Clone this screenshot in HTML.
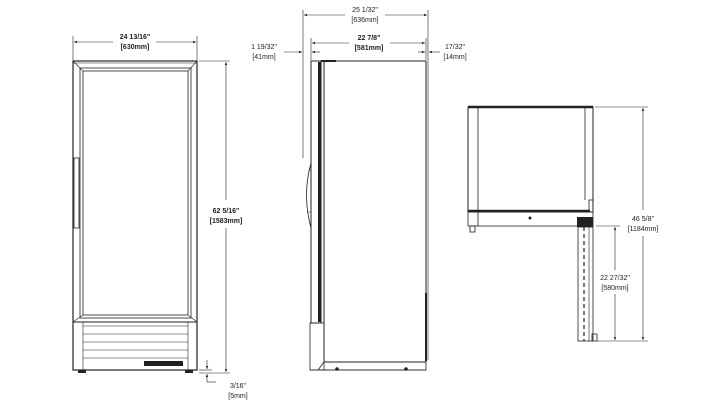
<!DOCTYPE html>
<html><head><meta charset="utf-8"><style>
html,body{margin:0;padding:0;background:#fff;}
svg{display:block;}
text{font-family:"Liberation Sans",sans-serif;font-size:7px;fill:#222;}
.b{font-weight:bold;}
</style></head><body>
<svg width="723" height="400" viewBox="0 0 723 400" xmlns="http://www.w3.org/2000/svg">
<defs>
<marker id="a" viewBox="0 0 10 10" refX="10" refY="5" markerWidth="5" markerHeight="5" orient="auto-start-reverse"><path d="M0,1 L10,5 L0,9 z" fill="#222"/></marker>
</defs>
<g stroke="#222" fill="none" stroke-width="1">
<!-- FRONT VIEW -->
<line x1="73" y1="36" x2="73" y2="60" stroke-width="0.6"/>
<line x1="197" y1="36" x2="197" y2="60" stroke-width="0.6"/>
<line x1="74" y1="42" x2="113" y2="42" stroke-width="0.6" marker-start="url(#a)"/>
<line x1="156" y1="42" x2="196" y2="42" stroke-width="0.6" marker-end="url(#a)"/>
<rect x="73" y="61" width="124" height="309" stroke-width="1.2"/>
<line x1="73" y1="63" x2="197" y2="63" stroke-width="0.6"/>
<rect x="80" y="68" width="111" height="250" stroke-width="0.8"/>
<rect x="83" y="71" width="105" height="244" stroke-width="0.8"/>
<line x1="73" y1="61" x2="83" y2="71" stroke-width="0.6"/>
<line x1="197" y1="61" x2="188" y2="71" stroke-width="0.6"/>
<line x1="73" y1="322" x2="83" y2="315" stroke-width="0.6"/>
<line x1="197" y1="322" x2="188" y2="315" stroke-width="0.6"/>
<rect x="74" y="158" width="5" height="70" stroke-width="0.8"/>
<line x1="73" y1="322" x2="197" y2="322"/>
<line x1="83" y1="322" x2="83" y2="370" stroke-width="0.6"/>
<line x1="188" y1="322" x2="188" y2="370" stroke-width="0.6"/>
<line x1="83" y1="326" x2="188" y2="326" stroke-width="0.6"/>
<line x1="83" y1="334" x2="188" y2="334" stroke-width="0.6"/>
<line x1="83" y1="342" x2="188" y2="342" stroke-width="0.6"/>
<line x1="83" y1="350" x2="188" y2="350" stroke-width="0.6"/>
<line x1="83" y1="358" x2="188" y2="358" stroke-width="0.6"/>
<rect x="144" y="361" width="39" height="5" fill="#222" stroke="none"/>
<rect x="78" y="370" width="8" height="3" fill="#222" stroke="none"/>
<rect x="185" y="370" width="8" height="3" fill="#222" stroke="none"/>
<line x1="199" y1="61" x2="230" y2="61" stroke-width="0.6"/>
<line x1="199" y1="373" x2="230" y2="373" stroke-width="0.6"/>
<line x1="226" y1="62" x2="226" y2="200" stroke-width="0.6" marker-start="url(#a)"/>
<line x1="226" y1="228" x2="226" y2="372" stroke-width="0.6" marker-end="url(#a)"/>
<line x1="207" y1="360" x2="207" y2="369" stroke-width="0.6" marker-end="url(#a)"/>
<line x1="207" y1="382" x2="207" y2="374" stroke-width="0.6" marker-end="url(#a)"/>
<line x1="207" y1="382" x2="216" y2="382" stroke-width="0.6"/>
<line x1="199" y1="370" x2="212" y2="370" stroke-width="0.6"/>

<!-- SIDE VIEW -->
<line x1="303" y1="10" x2="303" y2="158" stroke-width="0.6"/>
<line x1="428" y1="10" x2="428" y2="360" stroke-width="0.6"/>
<line x1="304" y1="15" x2="345" y2="15" stroke-width="0.6" marker-start="url(#a)"/>
<line x1="385" y1="15" x2="427" y2="15" stroke-width="0.6" marker-end="url(#a)"/>
<line x1="311" y1="38" x2="311" y2="60" stroke-width="0.6"/>
<line x1="426" y1="38" x2="426" y2="60" stroke-width="0.6"/>
<line x1="312" y1="43" x2="349" y2="43" stroke-width="0.6" marker-start="url(#a)"/>
<line x1="390" y1="43" x2="425" y2="43" stroke-width="0.6" marker-end="url(#a)"/>
<line x1="284" y1="52" x2="302" y2="52" stroke-width="0.6" marker-end="url(#a)"/>
<line x1="320" y1="52" x2="312" y2="52" stroke-width="0.6" marker-end="url(#a)"/>
<line x1="418" y1="52" x2="425" y2="52" stroke-width="0.6" marker-end="url(#a)"/>
<line x1="440" y1="52" x2="429" y2="52" stroke-width="0.6" marker-end="url(#a)"/>
<rect x="311" y="61" width="10" height="262" stroke-width="1"/>
<rect x="318" y="62" width="3" height="260" fill="#222" stroke="none"/>
<line x1="321" y1="61" x2="426" y2="61"/>
<line x1="321" y1="61" x2="336" y2="61" stroke-width="2"/>
<line x1="426" y1="61" x2="426" y2="362"/>
<rect x="425" y="293" width="2" height="68" fill="#222" stroke="none"/>
<line x1="324" y1="61" x2="324" y2="362"/>
<path d="M311,163 Q302,195 311,228" stroke-width="0.8"/>
<path d="M309,170 L311,170 M308,212 L311,212" stroke-width="0.6"/>
<rect x="310" y="323" width="14" height="47" stroke-width="0.8"/>
<line x1="324" y1="362" x2="426" y2="362"/>
<path d="M324,362 L318,370 L426,370 L426,362" stroke-width="0.8"/>
<path d="M310,370 L426,370" stroke-width="0.8"/>
<circle cx="337" cy="369" r="1.3" fill="#222"/>
<circle cx="406" cy="369" r="1.3" fill="#222"/>

<!-- TOP VIEW -->
<rect x="468" y="107" width="125" height="105" stroke-width="1"/>
<line x1="468" y1="107" x2="593" y2="107" stroke-width="2.5"/>
<line x1="478" y1="108" x2="478" y2="212" stroke-width="0.8"/>
<line x1="585" y1="108" x2="585" y2="200" stroke-width="0.8"/>
<line x1="468" y1="211" x2="590" y2="211" stroke-width="2.5"/>
<rect x="468" y="212" width="125" height="14" stroke-width="0.8"/>
<line x1="478" y1="212" x2="478" y2="226" stroke-width="0.8"/>
<rect x="470" y="226" width="5" height="6" stroke-width="0.8"/>
<circle cx="530" cy="218" r="1" fill="#222"/>
<rect x="589" y="200" width="4" height="12" stroke-width="0.8"/>
<rect x="577" y="217" width="16" height="10" fill="#222" stroke="none"/>
<rect x="578" y="227" width="15" height="114" stroke-width="0.8"/>
<line x1="584" y1="227" x2="584" y2="341" stroke-width="1.2" stroke-dasharray="4,3"/>
<line x1="589" y1="227" x2="589" y2="341" stroke-width="0.6"/>
<rect x="592" y="334" width="5" height="7" stroke-width="0.8"/>
<line x1="595" y1="107" x2="648" y2="107" stroke-width="0.6"/>
<line x1="597" y1="341" x2="648" y2="341" stroke-width="0.6"/>
<line x1="596" y1="226" x2="620" y2="226" stroke-width="0.6"/>
<line x1="643" y1="108" x2="643" y2="210" stroke-width="0.6" marker-start="url(#a)"/>
<line x1="643" y1="236" x2="643" y2="340" stroke-width="0.6" marker-end="url(#a)"/>
<line x1="615" y1="227" x2="615" y2="270" stroke-width="0.6" marker-start="url(#a)"/>
<line x1="615" y1="294" x2="615" y2="340" stroke-width="0.6" marker-end="url(#a)"/>
</g>
<g>
<text x="135" y="39" text-anchor="middle" class="b">24 13/16"</text>
<text x="135" y="49" text-anchor="middle" class="b">[630mm]</text>
<text x="226" y="213" text-anchor="middle" class="b">62 5/16"</text>
<text x="226" y="223" text-anchor="middle" class="b">[1583mm]</text>
<text x="238" y="388" text-anchor="middle">3/16"</text>
<text x="238" y="398" text-anchor="middle">[5mm]</text>
<text x="365" y="12" text-anchor="middle">25 1/32"</text>
<text x="365" y="22" text-anchor="middle">[636mm]</text>
<text x="369" y="40" text-anchor="middle" class="b">22 7/8"</text>
<text x="369" y="50" text-anchor="middle" class="b">[581mm]</text>
<text x="264" y="49" text-anchor="middle">1 19/32"</text>
<text x="264" y="59" text-anchor="middle">[41mm]</text>
<text x="455" y="49" text-anchor="middle">17/32"</text>
<text x="455" y="59" text-anchor="middle">[14mm]</text>
<text x="643" y="221" text-anchor="middle">46 5/8"</text>
<text x="643" y="231" text-anchor="middle">[1184mm]</text>
<text x="615" y="280" text-anchor="middle">22 27/32"</text>
<text x="615" y="290" text-anchor="middle">[580mm]</text>
</g>
</svg>
</body></html>
